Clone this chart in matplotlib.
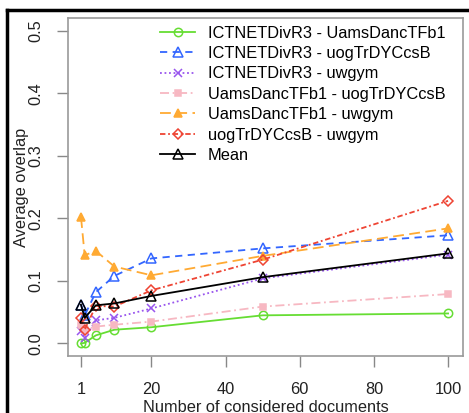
"""Average overlap vs number of considered documents, per run pair."""

import matplotlib
matplotlib.use("Agg")
import matplotlib.pyplot as plt
from matplotlib.lines import Line2D

n_docs = [1, 2, 5, 10, 20, 50, 100]

ictnet_uams = [0.000, 0.001, 0.013, 0.022, 0.026, 0.045, 0.048]
ictnet_uog = [0.062, 0.045, 0.082, 0.108, 0.136, 0.152, 0.173]
ictnet_uwgym = [0.020, 0.008, 0.037, 0.041, 0.056, 0.104, 0.142]
uams_uog = [0.030, 0.022, 0.027, 0.030, 0.035, 0.059, 0.079]
uams_uwgym = [0.202, 0.141, 0.148, 0.123, 0.109, 0.140, 0.184]
uog_uwgym = [0.040, 0.022, 0.060, 0.059, 0.085, 0.134, 0.228]
mean = [0.062, 0.041, 0.061, 0.064, 0.076, 0.106, 0.144]

labels = [
    "ICTNETDivR3 - UamsDancTFb1",
    "ICTNETDivR3 - uogTrDYCcsB",
    "ICTNETDivR3 - uwgym",
    "UamsDancTFb1 - uogTrDYCcsB",
    "UamsDancTFb1 - uwgym",
    "uogTrDYCcsB - uwgym",
    "Mean",
]

plt.rcParams["font.family"] = ["Liberation Sans", "DejaVu Sans"]
FS = 11.8

fig = plt.figure(figsize=(4.69, 4.13), dpi=100)
ax = fig.add_axes([0.145, 0.138, 0.842, 0.818])

styles = [
    # data, color, linestyle, marker, filled, markersize
    (ictnet_uams, "#66dd33", "-", "o", False, 6),
    (ictnet_uog, "#3366ff", (0, (4, 3)), "^", False, 7),
    (ictnet_uwgym, "#9955ee", (0, (1, 1.5)), "x", False, 6),
    (uams_uog, "#f7b8c2", (0, (5, 2, 1, 2)), "s", True, 5),
    (uams_uwgym, "#ffaa33", (0, (6, 3)), "^", True, 6),
    (uog_uwgym, "#ee4433", (0, (3, 1.5, 1, 1.5)), "D", False, 5),
    (mean, "black", "-", "^", False, 7),
]

for (vals, color, ls, marker, filled, ms), label in zip(styles, labels):
    ax.plot(n_docs, vals, color=color, linestyle=ls, linewidth=1.3,
            marker=marker, markersize=ms, markeredgewidth=1.1,
            markerfacecolor=color if filled else "none",
            markeredgecolor=color, label=label)

ax.set_xlim(-2.5, 104)
ax.set_ylim(-0.02, 0.52)
ax.set_xticks([1, 20, 40, 60, 80, 100])
ax.set_yticks([0.0, 0.1, 0.2, 0.3, 0.4, 0.5])
ax.set_yticklabels(["0.0", "0.1", "0.2", "0.3", "0.4", "0.5"], va="center")
ax.tick_params(axis="y", labelrotation=90, pad=10)
ax.tick_params(axis="x", pad=11)
ax.tick_params(direction="out", length=8, width=1, color="#888888",
               labelsize=FS, labelcolor="#222222")
for sp in ax.spines.values():
    sp.set_color("#999999")
    sp.set_linewidth(1.2)

ax.set_xlabel("Number of considered documents", fontsize=FS,
              color="#222222", labelpad=2)
ax.set_ylabel("Average overlap", fontsize=FS, color="#222222", labelpad=-1)

ax.legend(loc="upper right", frameon=False, fontsize=FS,
          handlelength=2.1, handletextpad=0.8, labelspacing=0.33,
          borderaxespad=0.3, bbox_to_anchor=(0.985, 1.012))

# black frame lines at left and top of the screenshot
fig.add_artist(Line2D([7 / 469, 7 / 469], [0, 1 - 10 / 413],
                      color="black", linewidth=2.5, transform=fig.transFigure))
fig.add_artist(Line2D([7 / 469, 1], [1 - 10 / 413, 1 - 10 / 413],
                      color="black", linewidth=2.5, transform=fig.transFigure))

fig.savefig("out.png", dpi=100)
